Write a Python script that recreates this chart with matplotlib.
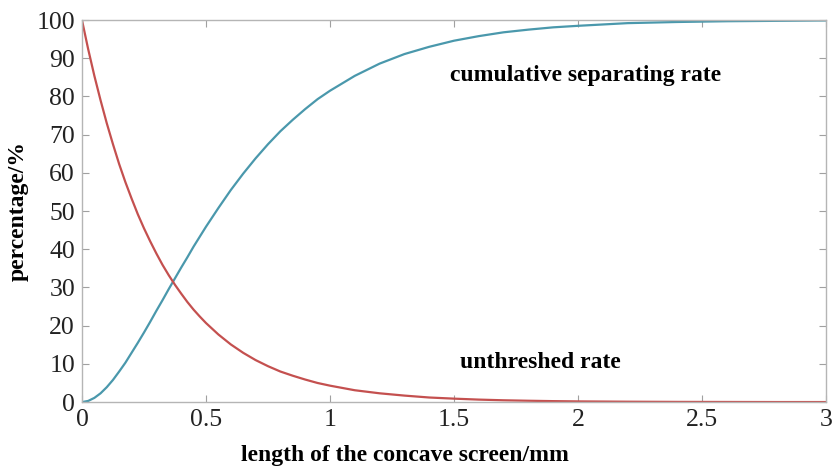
import matplotlib
matplotlib.use('Agg')
import matplotlib.pyplot as plt

plt.rcParams['font.family'] = ['Liberation Serif', 'DejaVu Serif']

# screen length (mm) and the two rates (%)
length = [0, 0.025, 0.05, 0.075, 0.1, 0.125, 0.15, 0.175, 0.2, 0.225,
          0.25, 0.275, 0.3, 0.325, 0.35, 0.375, 0.4, 0.425, 0.45, 0.475,
          0.5, 0.55, 0.6, 0.65, 0.7, 0.75, 0.8, 0.85, 0.9, 0.95, 1.0,
          1.1, 1.2, 1.3, 1.4, 1.5, 1.6, 1.7, 1.8, 1.9, 2.0,
          2.2, 2.4, 2.6, 2.8, 3.0]
unthreshed = [100, 92.4, 85.4, 79.0, 73.0, 67.5, 62.3, 57.6, 53.3, 49.2,
              45.5, 42.1, 38.9, 35.9, 33.2, 30.7, 28.4, 26.2, 24.2, 22.4,
              20.7, 17.7, 15.1, 12.9, 11.0, 9.4, 8.0, 6.9, 5.9, 5.0, 4.3,
              3.1, 2.3, 1.7, 1.2, 0.9, 0.65, 0.47, 0.35, 0.25, 0.18,
              0.1, 0.05, 0.03, 0.01, 0.01]
separating = [0, 0.3, 1.1, 2.3, 3.9, 5.8, 8.0, 10.3, 12.9, 15.5,
              18.2, 21.0, 23.9, 26.7, 29.6, 32.4, 35.2, 37.9, 40.7, 43.3,
              45.9, 50.8, 55.5, 59.8, 63.8, 67.5, 70.9, 73.9, 76.7, 79.3,
              81.5, 85.4, 88.6, 91.1, 93.0, 94.6, 95.8, 96.8, 97.5, 98.1,
              98.5, 99.2, 99.5, 99.7, 99.8, 99.9]

fig = plt.figure(figsize=(8.33, 4.67), dpi=100)
ax = fig.add_axes([0.0984, 0.139, 0.8932, 0.818])

ax.plot(length, separating, color='#4a98ac', lw=1.6, solid_joinstyle='round')
ax.plot(length, unthreshed, color='#c4504f', lw=1.6, solid_joinstyle='round')

ax.set_xlim(0, 3)
ax.set_ylim(0, 100)
ax.set_xticks([0, 0.5, 1, 1.5, 2, 2.5, 3])
ax.set_xticklabels(['0', '0.5', '1', '1.5', '2', '2.5', '3'])
ax.set_yticks(range(0, 101, 10))

for s in ax.spines.values():
    s.set_color('#b5b5b5')
    s.set_linewidth(1.0)
ax.tick_params(direction='in', length=5, width=0.8, color='#a0a0a0',
               top=True, right=True, labelsize=18.5, labelcolor='#222222',
               pad=5)

ax.text(1.484, 85.4, 'cumulative separating rate', fontsize=17,
        fontweight='bold', va='center', ha='left')
ax.text(1.524, 10.4, 'unthreshed rate', fontsize=17,
        fontweight='bold', va='center', ha='left')

fig.text(405 / 833, 1 - 455 / 467, 'length of the concave screen/mm',
         fontsize=17, fontweight='bold', ha='center', va='center')
fig.text(18 / 833, 1 - 211 / 467, 'percentage/%', fontsize=17,
         fontweight='bold', rotation=90, ha='center', va='center')

fig.savefig('out.png', dpi=100)
